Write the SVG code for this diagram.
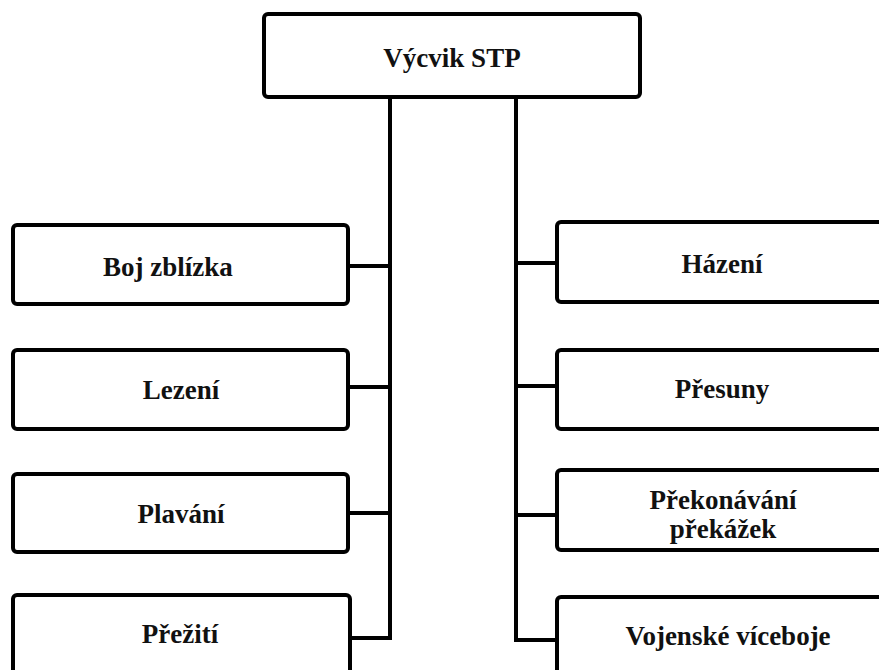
<svg xmlns="http://www.w3.org/2000/svg" width="879" height="670" viewBox="0 0 879 670">
<style>
.box{fill:#fff;stroke:#000;stroke-width:4}
.t{font-family:"Liberation Serif","Times New Roman",serif;font-weight:bold;font-size:27px;fill:#111;text-anchor:middle}
.c{fill:none;stroke:#000;stroke-width:4}
</style>
<rect width="879" height="670" fill="#fff"/>
<g id="connectors">
<path class="c" d="M390,97 V638 H350"/>
<path class="c" d="M516,97 V640 H557"/>
<path class="c" d="M348,266 H390 M348,387 H390 M348,513 H390"/>
<path class="c" d="M516,263 H557 M516,386 H557 M516,515 H557"/>
</g>
<g id="root"><rect class="box" x="264" y="14" width="376" height="83" rx="4"/><text class="t" x="452" y="67">Výcvik STP</text></g>
<g id="boj"><rect class="box" x="13" y="225" width="335" height="79" rx="4"/><text class="t" x="168" y="276">Boj zblízka</text></g>
<g id="lezeni"><rect class="box" x="13" y="350" width="335" height="79" rx="4"/><text class="t" x="181" y="399">Lezení</text></g>
<g id="plavani"><rect class="box" x="13" y="474" width="335" height="78" rx="4"/><text class="t" x="181" y="523">Plavání</text></g>
<g id="preziti"><rect class="box" x="13" y="595" width="337" height="90" rx="4"/><text class="t" x="180" y="643">Přežití</text></g>
<g id="hazeni"><rect class="box" x="557" y="222" width="340" height="80" rx="4"/><text class="t" x="722" y="273">Házení</text></g>
<g id="presuny"><rect class="box" x="557" y="350" width="340" height="79" rx="4"/><text class="t" x="722" y="398">Přesuny</text></g>
<g id="prekonavani"><rect class="box" x="557" y="470" width="340" height="80" rx="4"/><text class="t" x="723" y="509">Překonávání</text><text class="t" x="723" y="538">překážek</text></g>
<g id="viceboje"><rect class="box" x="557" y="597" width="340" height="90" rx="4"/><text class="t" x="728" y="645">Vojenské víceboje</text></g>
</svg>
